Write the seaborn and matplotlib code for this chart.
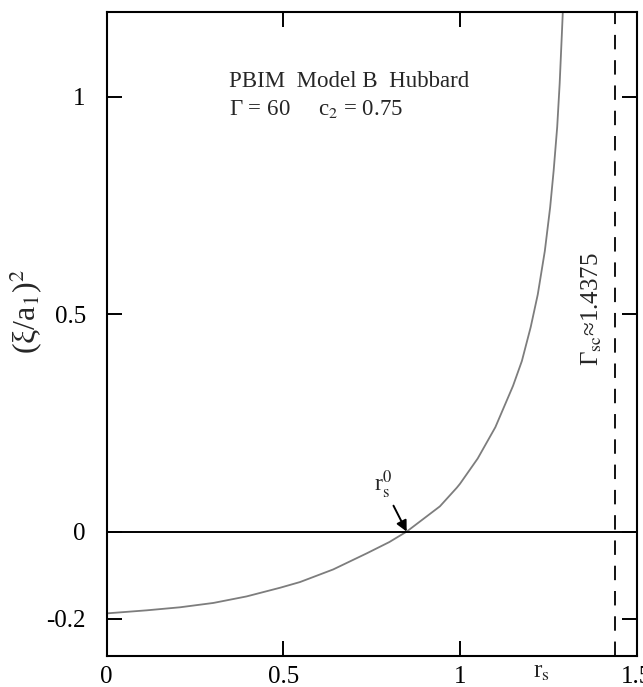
import pandas as pd
import matplotlib
matplotlib.use("Agg")
import matplotlib.pyplot as plt
import matplotlib.transforms as mtransforms
import seaborn as sns

# values
rs = [0, 0.113, 0.2075, 0.302, 0.396, 0.491, 0.547, 0.641, 0.736, 0.800, 0.849,
      0.943, 0.991, 1.0, 1.05, 1.1, 1.15, 1.175, 1.2, 1.22, 1.24, 1.255,
      1.265, 1.275, 1.282, 1.288, 1.292]
xi2 = [-0.188, -0.181, -0.174, -0.164, -0.149, -0.129, -0.116, -0.087, -0.050, -0.024, 0.0,
       0.058, 0.101, 0.110, 0.168, 0.240, 0.335, 0.392, 0.470, 0.545, 0.645, 0.745,
       0.830, 0.930, 1.030, 1.140, 1.215]
r0 = 0.849
gamma_sc = 1.4375

x_ticks = [0, 0.5, 1, 1.5]
x_ticklabels = ["0", "0.5", "1", "1.5"]
y_ticks = [-0.2, 0, 0.5, 1]
y_ticklabels = ["-0.2", "0", "0.5", "1"]

df = pd.DataFrame({"rs": rs, "xi2": xi2})

sns.set_style("ticks")
plt.rcParams["font.family"] = ["Liberation Serif", "DejaVu Serif"]
plt.rcParams["mathtext.fontset"] = "stix"

fig = plt.figure(figsize=(6.43, 6.87), dpi=100)
ax = fig.add_axes([0.1659, 0.0451, 0.8243, 0.9378])

sns.lineplot(data=df, x="rs", y="xi2", ax=ax, color="#7d7d7d", lw=1.3)
ax.axhline(0, color="black", lw=1.4)
ax.axvline(gamma_sc, color="black", lw=1.3, linestyle=(0, (8, 6)))

ax.set_xlim(0, 1.5)
ax.set_ylim(-0.286, 1.195)
ax.set_xticks(x_ticks)
ax.set_xticklabels(x_ticklabels)
ax.set_yticks(y_ticks)
ax.set_yticklabels(y_ticklabels)
ax.tick_params(direction="in", length=11, width=1.4, top=True, right=True,
               labelsize=18, colors="black")
ax.tick_params(axis="x", pad=7)
ax.tick_params(axis="y", pad=15)
for s in ax.spines.values():
    s.set_linewidth(1.5)
    s.set_color("black")

ax.set_xlabel("")
ax.set_ylabel("(ξ/a$_1$)$^2$", fontsize=23, va="center")
ax.yaxis.set_label_coords(-0.152, 0.534)

# x label sits beside the tick labels
trans = mtransforms.blended_transform_factory(ax.transData, ax.transAxes)
ax.text(1.207, -0.033, r"r$_{\rm s}$", transform=trans, fontsize=18,
        ha="left", va="baseline", clip_on=False)

ax.text(0.3456, 1.023, "PBIM  Model B  Hubbard", fontsize=16.5,
        ha="left", va="baseline")
ax.text(0.3456, 0.958, "Γ = 60     c$_2$ = 0.75", fontsize=16.5,
        ha="left", va="baseline")

ax.text(1.374, 0.512, "Γ$_{\\rm sc}$≈1.4375", fontsize=18, rotation=90,
        ha="center", va="center")

ax.annotate(r"r$_{\rm s}^0$", xy=(r0, 0), xytext=(0.782, 0.107),
            fontsize=17, ha="center", va="center",
            arrowprops=dict(arrowstyle="-|>", color="black", lw=1.4,
                            shrinkA=1, shrinkB=0, mutation_scale=16))

fig.savefig("out.png", dpi=100)
